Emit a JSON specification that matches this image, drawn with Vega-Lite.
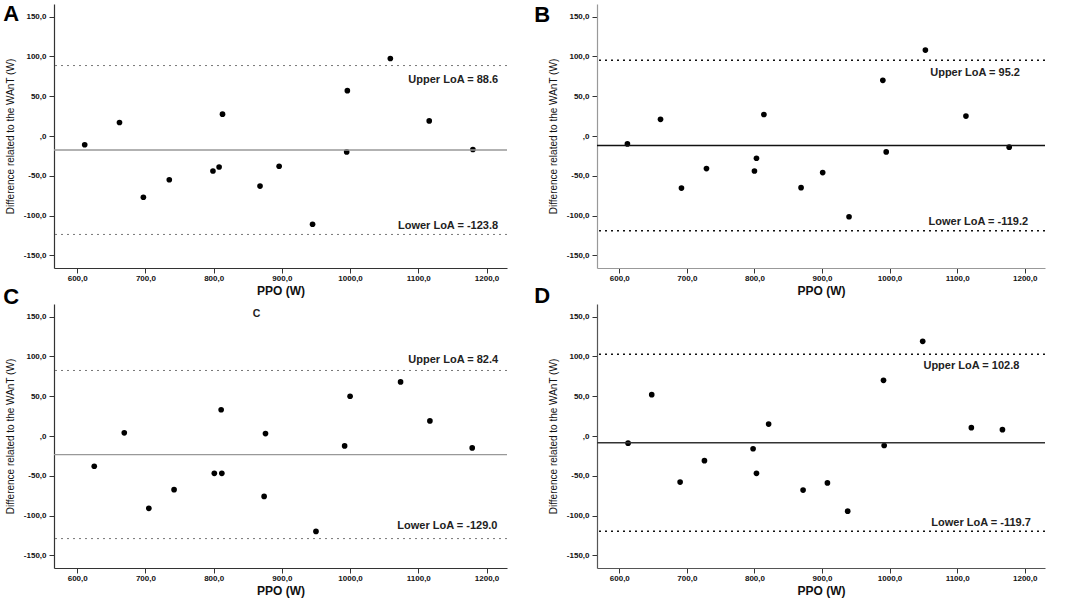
{
  "$schema": "https://vega.github.io/schema/vega-lite/v6.json",
  "background": "white",
  "padding": {"left": 3, "top": 3, "right": 2, "bottom": 3},
  "datasets": {
    "points": [
      {"panel": "A", "ppo": 611, "diff": -11},
      {"panel": "A", "ppo": 662, "diff": 17},
      {"panel": "A", "ppo": 697, "diff": -77},
      {"panel": "A", "ppo": 735, "diff": -55},
      {"panel": "A", "ppo": 799, "diff": -44},
      {"panel": "A", "ppo": 808, "diff": -39},
      {"panel": "A", "ppo": 813, "diff": 27.5},
      {"panel": "A", "ppo": 868, "diff": -63},
      {"panel": "A", "ppo": 896, "diff": -38},
      {"panel": "A", "ppo": 945, "diff": -111},
      {"panel": "A", "ppo": 995, "diff": -20},
      {"panel": "A", "ppo": 996, "diff": 57},
      {"panel": "A", "ppo": 1059, "diff": 97.5},
      {"panel": "A", "ppo": 1116, "diff": 19},
      {"panel": "A", "ppo": 1180, "diff": -17},
      {"panel": "B", "ppo": 612, "diff": -10},
      {"panel": "B", "ppo": 661, "diff": 21},
      {"panel": "B", "ppo": 692, "diff": -65.5},
      {"panel": "B", "ppo": 729, "diff": -41},
      {"panel": "B", "ppo": 800, "diff": -44},
      {"panel": "B", "ppo": 803, "diff": -28},
      {"panel": "B", "ppo": 814, "diff": 27},
      {"panel": "B", "ppo": 869, "diff": -65},
      {"panel": "B", "ppo": 901, "diff": -46},
      {"panel": "B", "ppo": 940, "diff": -101.5},
      {"panel": "B", "ppo": 990, "diff": 70},
      {"panel": "B", "ppo": 995, "diff": -20},
      {"panel": "B", "ppo": 1053, "diff": 108},
      {"panel": "B", "ppo": 1113, "diff": 25},
      {"panel": "B", "ppo": 1177, "diff": -14},
      {"panel": "C", "ppo": 625, "diff": -38},
      {"panel": "C", "ppo": 669, "diff": 4},
      {"panel": "C", "ppo": 705, "diff": -91},
      {"panel": "C", "ppo": 742, "diff": -67.5},
      {"panel": "C", "ppo": 801, "diff": -47},
      {"panel": "C", "ppo": 811, "diff": 33},
      {"panel": "C", "ppo": 812, "diff": -47},
      {"panel": "C", "ppo": 874, "diff": -76},
      {"panel": "C", "ppo": 876, "diff": 3},
      {"panel": "C", "ppo": 950, "diff": -120},
      {"panel": "C", "ppo": 992, "diff": -12.5},
      {"panel": "C", "ppo": 1000, "diff": 50},
      {"panel": "C", "ppo": 1074, "diff": 68},
      {"panel": "C", "ppo": 1117, "diff": 19},
      {"panel": "C", "ppo": 1179, "diff": -15},
      {"panel": "D", "ppo": 613, "diff": -9},
      {"panel": "D", "ppo": 648, "diff": 52},
      {"panel": "D", "ppo": 690, "diff": -58},
      {"panel": "D", "ppo": 726, "diff": -31},
      {"panel": "D", "ppo": 798, "diff": -16},
      {"panel": "D", "ppo": 803, "diff": -47},
      {"panel": "D", "ppo": 821, "diff": 15},
      {"panel": "D", "ppo": 872, "diff": -68},
      {"panel": "D", "ppo": 908, "diff": -59},
      {"panel": "D", "ppo": 938, "diff": -94.5},
      {"panel": "D", "ppo": 991, "diff": 70},
      {"panel": "D", "ppo": 992, "diff": -12},
      {"panel": "D", "ppo": 1049, "diff": 119},
      {"panel": "D", "ppo": 1121, "diff": 10.5},
      {"panel": "D", "ppo": 1167, "diff": 8}
    ],
    "lines": [
      {"panel": "A", "kind": "mean", "diff": -17.6, "label": ""},
      {"panel": "A", "kind": "upper", "diff": 88.6, "label": "Upper LoA = 88.6"},
      {"panel": "A", "kind": "lower", "diff": -123.8, "label": "Lower LoA = -123.8"},
      {"panel": "B", "kind": "mean", "diff": -12, "label": ""},
      {"panel": "B", "kind": "upper", "diff": 95.2, "label": "Upper LoA = 95.2"},
      {"panel": "B", "kind": "lower", "diff": -119.2, "label": "Lower LoA = -119.2"},
      {"panel": "C", "kind": "mean", "diff": -23.3, "label": ""},
      {"panel": "C", "kind": "upper", "diff": 82.4, "label": "Upper LoA = 82.4"},
      {"panel": "C", "kind": "lower", "diff": -129.0, "label": "Lower LoA = -129.0"},
      {"panel": "D", "kind": "mean", "diff": -8.45, "label": ""},
      {"panel": "D", "kind": "upper", "diff": 102.8, "label": "Upper LoA = 102.8"},
      {"panel": "D", "kind": "lower", "diff": -119.7, "label": "Lower LoA = -119.7"}
    ],
    "notes": [
      {"panel": "C", "ppo": 863, "diff": 153, "label": "C"}
    ]
  },
  "spacing": -11,
  "vconcat": [
    {
      "hconcat": [
        {
          "width": 453,
          "height": 264,
          "title": {"text": "A", "dx": -2, "offset": -22},
          "layer": [
            {
              "data": {"name": "points"},
              "transform": [{"filter": "datum.panel == 'A'"}],
              "mark": {"type": "circle", "size": 32, "color": "black", "opacity": 1},
              "encoding": {
                "x": {"field": "ppo", "type": "quantitative", "scale": {"domain": [566, 1230], "nice": false, "zero": false}, "axis": {"values": [600, 700, 800, 900, 1000, 1100, 1200], "labelExpr": "datum.value + ',0'", "title": "PPO (W)"}},
                "y": {"field": "diff", "type": "quantitative", "scale": {"domain": [-166, 166], "nice": false}, "axis": {"values": [-150, -100, -50, 0, 50, 100, 150], "labelExpr": "datum.value == 0 ? ',0' : (datum.value < 0 ? '-' : '') + abs(datum.value) + ',0'", "title": "Difference related to the WAnT (W)"}}
              }
            },
            {
              "data": {"name": "lines"},
              "transform": [{"filter": "datum.panel == 'A' && datum.kind == 'mean'"}],
              "mark": {"type": "rule", "color": "#999", "strokeWidth": 1.3},
              "encoding": {"y": {"field": "diff", "type": "quantitative"}}
            },
            {
              "data": {"name": "lines"},
              "transform": [{"filter": "datum.panel == 'A' && datum.kind != 'mean'"}],
              "mark": {"type": "rule", "color": "#777", "strokeWidth": 1, "strokeDash": [2, 4]},
              "encoding": {"y": {"field": "diff", "type": "quantitative"}}
            },
            {
              "data": {"name": "lines"},
              "transform": [{"filter": "datum.panel == 'A' && datum.kind == 'upper'"}],
              "mark": {"type": "text", "align": "right", "baseline": "middle", "dy": 14.6},
              "encoding": {"x": {"datum": 1217}, "y": {"field": "diff", "type": "quantitative"}, "text": {"field": "label"}}
            },
            {
              "data": {"name": "lines"},
              "transform": [{"filter": "datum.panel == 'A' && datum.kind == 'lower'"}],
              "mark": {"type": "text", "align": "right", "baseline": "middle", "dy": -8.4},
              "encoding": {"x": {"datum": 1217}, "y": {"field": "diff", "type": "quantitative"}, "text": {"field": "label"}}
            }
          ]
        },
        {
          "width": 448,
          "height": 264,
          "title": {"text": "B", "dx": -14, "offset": -23},
          "layer": [
            {
              "data": {"name": "points"},
              "transform": [{"filter": "datum.panel == 'B'"}],
              "mark": {"type": "circle", "size": 32, "color": "black", "opacity": 1},
              "encoding": {
                "x": {"field": "ppo", "type": "quantitative", "scale": {"domain": [567, 1230], "nice": false, "zero": false}, "axis": {"values": [600, 700, 800, 900, 1000, 1100, 1200], "labelExpr": "datum.value + ',0'", "title": "PPO (W)", "domainColor": "#999"}},
                "y": {"field": "diff", "type": "quantitative", "scale": {"domain": [-166, 166], "nice": false}, "axis": {"values": [-150, -100, -50, 0, 50, 100, 150], "labelExpr": "datum.value == 0 ? ',0' : (datum.value < 0 ? '-' : '') + abs(datum.value) + ',0'", "title": "Difference related to the WAnT (W)", "domainColor": "#999"}}
              }
            },
            {
              "data": {"name": "lines"},
              "transform": [{"filter": "datum.panel == 'B' && datum.kind == 'mean'"}],
              "mark": {"type": "rule", "color": "#111", "strokeWidth": 1.4},
              "encoding": {"y": {"field": "diff", "type": "quantitative"}}
            },
            {
              "data": {"name": "lines"},
              "transform": [{"filter": "datum.panel == 'B' && datum.kind != 'mean'"}],
              "mark": {"type": "rule", "color": "#111", "strokeWidth": 1.5, "strokeDash": [2, 4]},
              "encoding": {"y": {"field": "diff", "type": "quantitative"}}
            },
            {
              "data": {"name": "lines"},
              "transform": [{"filter": "datum.panel == 'B' && datum.kind == 'upper'"}],
              "mark": {"type": "text", "align": "right", "baseline": "middle", "dy": 12.9},
              "encoding": {"x": {"datum": 1193}, "y": {"field": "diff", "type": "quantitative"}, "text": {"field": "label"}}
            },
            {
              "data": {"name": "lines"},
              "transform": [{"filter": "datum.panel == 'B' && datum.kind == 'lower'"}],
              "mark": {"type": "text", "align": "right", "baseline": "middle", "dy": -8.6},
              "encoding": {"x": {"datum": 1205}, "y": {"field": "diff", "type": "quantitative"}, "text": {"field": "label"}}
            }
          ]
        }
      ],
      "spacing": 26
    },
    {
      "hconcat": [
        {
          "width": 453,
          "height": 264,
          "title": {"text": "C", "dx": -2, "offset": -5},
          "layer": [
            {
              "data": {"name": "points"},
              "transform": [{"filter": "datum.panel == 'C'"}],
              "mark": {"type": "circle", "size": 32, "color": "black", "opacity": 1},
              "encoding": {
                "x": {"field": "ppo", "type": "quantitative", "scale": {"domain": [566, 1230], "nice": false, "zero": false}, "axis": {"values": [600, 700, 800, 900, 1000, 1100, 1200], "labelExpr": "datum.value + ',0'", "title": "PPO (W)"}},
                "y": {"field": "diff", "type": "quantitative", "scale": {"domain": [-166, 166], "nice": false}, "axis": {"values": [-150, -100, -50, 0, 50, 100, 150], "labelExpr": "datum.value == 0 ? ',0' : (datum.value < 0 ? '-' : '') + abs(datum.value) + ',0'", "title": "Difference related to the WAnT (W)"}}
              }
            },
            {
              "data": {"name": "lines"},
              "transform": [{"filter": "datum.panel == 'C' && datum.kind == 'mean'"}],
              "mark": {"type": "rule", "color": "#999", "strokeWidth": 1.3},
              "encoding": {"y": {"field": "diff", "type": "quantitative"}}
            },
            {
              "data": {"name": "lines"},
              "transform": [{"filter": "datum.panel == 'C' && datum.kind != 'mean'"}],
              "mark": {"type": "rule", "color": "#777", "strokeWidth": 1, "strokeDash": [2, 4]},
              "encoding": {"y": {"field": "diff", "type": "quantitative"}}
            },
            {
              "data": {"name": "lines"},
              "transform": [{"filter": "datum.panel == 'C' && datum.kind == 'upper'"}],
              "mark": {"type": "text", "align": "right", "baseline": "middle", "dy": -10.4},
              "encoding": {"x": {"datum": 1217}, "y": {"field": "diff", "type": "quantitative"}, "text": {"field": "label"}}
            },
            {
              "data": {"name": "lines"},
              "transform": [{"filter": "datum.panel == 'C' && datum.kind == 'lower'"}],
              "mark": {"type": "text", "align": "right", "baseline": "middle", "dy": -12.2},
              "encoding": {"x": {"datum": 1216}, "y": {"field": "diff", "type": "quantitative"}, "text": {"field": "label"}}
            },
            {
              "data": {"name": "notes"},
              "mark": {"type": "text", "align": "center", "baseline": "middle", "fontSize": 10.5},
              "encoding": {"x": {"field": "ppo", "type": "quantitative"}, "y": {"field": "diff", "type": "quantitative"}, "text": {"field": "label"}}
            }
          ]
        },
        {
          "width": 448,
          "height": 264,
          "title": {"text": "D", "dx": -14, "offset": -4},
          "layer": [
            {
              "data": {"name": "points"},
              "transform": [{"filter": "datum.panel == 'D'"}],
              "mark": {"type": "circle", "size": 32, "color": "black", "opacity": 1},
              "encoding": {
                "x": {"field": "ppo", "type": "quantitative", "scale": {"domain": [567, 1230], "nice": false, "zero": false}, "axis": {"values": [600, 700, 800, 900, 1000, 1100, 1200], "labelExpr": "datum.value + ',0'", "title": "PPO (W)", "domainColor": "#555"}},
                "y": {"field": "diff", "type": "quantitative", "scale": {"domain": [-166, 166], "nice": false}, "axis": {"values": [-150, -100, -50, 0, 50, 100, 150], "labelExpr": "datum.value == 0 ? ',0' : (datum.value < 0 ? '-' : '') + abs(datum.value) + ',0'", "title": "Difference related to the WAnT (W)", "domainColor": "#555"}}
              }
            },
            {
              "data": {"name": "lines"},
              "transform": [{"filter": "datum.panel == 'D' && datum.kind == 'mean'"}],
              "mark": {"type": "rule", "color": "#333", "strokeWidth": 1.5},
              "encoding": {"y": {"field": "diff", "type": "quantitative"}}
            },
            {
              "data": {"name": "lines"},
              "transform": [{"filter": "datum.panel == 'D' && datum.kind != 'mean'"}],
              "mark": {"type": "rule", "color": "#111", "strokeWidth": 1.5, "strokeDash": [2, 4]},
              "encoding": {"y": {"field": "diff", "type": "quantitative"}}
            },
            {
              "data": {"name": "lines"},
              "transform": [{"filter": "datum.panel == 'D' && datum.kind == 'upper'"}],
              "mark": {"type": "text", "align": "right", "baseline": "middle", "dy": 12.2},
              "encoding": {"x": {"datum": 1192}, "y": {"field": "diff", "type": "quantitative"}, "text": {"field": "label"}}
            },
            {
              "data": {"name": "lines"},
              "transform": [{"filter": "datum.panel == 'D' && datum.kind == 'lower'"}],
              "mark": {"type": "text", "align": "right", "baseline": "middle", "dy": -8.2},
              "encoding": {"x": {"datum": 1209}, "y": {"field": "diff", "type": "quantitative"}, "text": {"field": "label"}}
            }
          ]
        }
      ],
      "spacing": 26
    }
  ],
  "config": {
    "view": {"stroke": null},
    "axis": {
      "grid": false,
      "labelFont": "Liberation Sans",
      "labelFontWeight": "bold",
      "labelFontSize": 8,
      "labelColor": "#111",
      "tickSize": 5,
      "tickColor": "#333",
      "tickWidth": 1,
      "domainColor": "#333",
      "domainWidth": 1.2
    },
    "axisX": {
      "labelPadding": 1,
      "titlePadding": 3,
      "titleFont": "Liberation Sans",
      "titleFontSize": 12,
      "titleFontWeight": "bold",
      "titleColor": "#111",
      "labelFlush": false,
      "labelOverlap": false
    },
    "axisY": {
      "labelPadding": 3,
      "titlePadding": 8,
      "titleFont": "Liberation Sans",
      "titleFontSize": 10,
      "titleFontWeight": "normal",
      "titleColor": "#111"
    },
    "text": {"font": "Liberation Sans", "fontWeight": "bold", "fontSize": 11, "color": "#222"},
    "title": {"anchor": "start", "frame": "bounds", "font": "Liberation Sans", "fontSize": 22, "fontWeight": "bold", "color": "black"}
  }
}
